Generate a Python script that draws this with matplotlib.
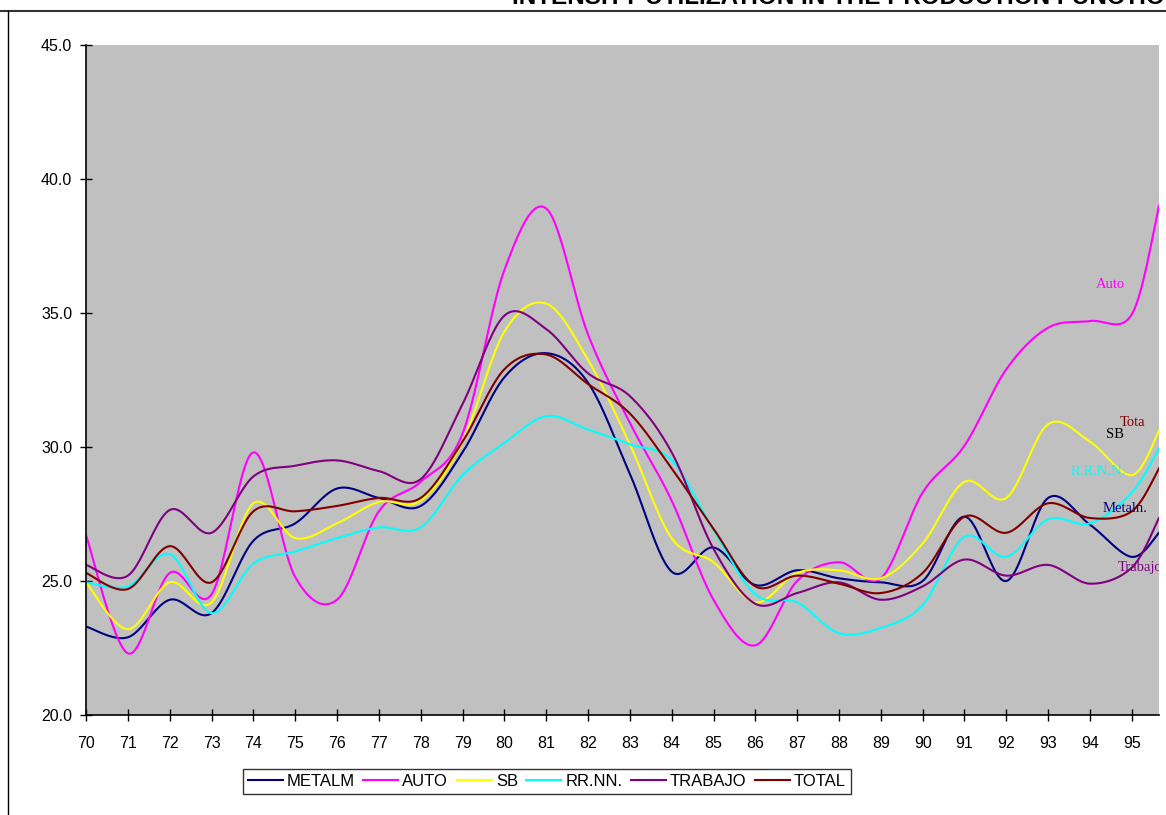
import matplotlib
matplotlib.use("Agg")
import matplotlib.pyplot as plt
from matplotlib.lines import Line2D
import numpy as np

years = [70, 71, 72, 73, 74, 75, 76, 77, 78, 79, 80, 81, 82, 83, 84, 85, 86, 87, 88, 89,
         90, 91, 92, 93, 94, 95, 95.65]

metalm = [23.3, 22.9, 24.3, 23.8, 26.5, 27.15, 28.45, 28.1, 27.8, 29.8, 32.6, 33.5, 32.4, 29.0,
          25.35, 26.25, 24.85, 25.4, 25.1, 24.95, 25.0, 27.4, 25.0, 28.1, 27.1, 25.9, 26.8]
auto = [26.7, 22.3, 25.3, 24.5, 29.8, 25.15, 24.3, 27.6, 28.7, 30.5, 36.6, 38.9, 34.2, 30.9,
        28.0, 24.3, 22.6, 25.0, 25.7, 25.1, 28.3, 30.05, 32.9, 34.45, 34.7, 34.95, 39.0]
sb = [24.95, 23.2, 24.95, 24.2, 27.9, 26.6, 27.15, 27.95, 28.0, 30.2, 34.3, 35.35, 33.25, 30.1,
      26.6, 25.7, 24.2, 25.3, 25.4, 25.1, 26.4, 28.7, 28.1, 30.85, 30.2, 28.95, 30.6]
rrnn = [24.95, 24.8, 26.0, 23.8, 25.65, 26.1, 26.6, 27.0, 27.0, 28.95, 30.15, 31.15, 30.65, 30.1,
        29.5, 26.9, 24.5, 24.2, 23.05, 23.25, 24.1, 26.65, 25.9, 27.3, 27.15, 28.3, 29.95]
trabajo = [25.6, 25.2, 27.65, 26.8, 28.9, 29.3, 29.5, 29.1, 28.8, 31.6, 34.9, 34.4, 32.75, 31.9,
           29.8, 26.2, 24.15, 24.55, 24.95, 24.3, 24.8, 25.8, 25.2, 25.6, 24.9, 25.5, 27.35]
total = [25.3, 24.7, 26.3, 24.95, 27.6, 27.6, 27.8, 28.1, 28.1, 30.2, 32.9, 33.45, 32.35, 31.25,
         29.2, 26.95, 24.8, 25.2, 24.9, 24.55, 25.3, 27.4, 26.8, 27.9, 27.35, 27.6, 29.2]

names = ["METALM", "AUTO", "SB", "RR.NN.", "TRABAJO", "TOTAL"]
colors = ["#000080", "#FF00FF", "#FFFF00", "#00FFFF", "#800080", "#800000"]
series = [metalm, auto, sb, rrnn, trabajo, total]

# labels written inside the plot near the right end
end_labels = ["Metaln.", "Auto", "SB", "R.R.N.N.", "Trabajo", "Tota"]
end_label_colors = ["#000080", "#FF00FF", "#000000", "#00FFFF", "#800080", "#800000"]
end_label_x = [94.85, 94.5, 94.6, 94.2, 95.2, 95.02]
end_label_y = [27.7, 36.05, 30.45, 29.1, 25.5, 30.9]


def smooth(x, y, n=24):
    # Catmull-Rom curve through the points, like Excel's smoothed lines
    p = np.column_stack([x, y]).astype(float)
    p = np.vstack([p[0], p, p[-1]])
    out = []
    t = np.linspace(0, 1, n, endpoint=False)[:, None]
    for i in range(1, len(p) - 2):
        p0, p1, p2, p3 = p[i - 1], p[i], p[i + 1], p[i + 2]
        seg = 0.5 * ((2 * p1) + (-p0 + p2) * t + (2 * p0 - 5 * p1 + 4 * p2 - p3) * t ** 2
                     + (-p0 + 3 * p1 - 3 * p2 + p3) * t ** 3)
        out.append(seg)
    out.append(p[-2][None, :])
    out = np.vstack(out)
    return out[:, 0], out[:, 1]


plt.rcParams['font.family'] = ['Liberation Sans', 'DejaVu Sans']

fig = plt.figure(figsize=(11.66, 8.15), dpi=100)
ax = fig.add_axes([0.0738, 0.1227, 0.9202, 0.8221])
ax.set_facecolor("#C0C0C0")

for name, col, vals in zip(names, colors, series):
    sx, sy = smooth(years, vals)
    ax.plot(sx, sy, color=col, lw=1.5, label=name)

for txt, col, lx, ly in zip(end_labels, end_label_colors, end_label_x, end_label_y):
    ax.text(lx, ly, txt, color=col, fontsize=10.5, family='Liberation Serif',
            ha='center', va='center', clip_on=True)

ax.set_xlim(70, 95.65)
ax.set_ylim(20, 45)
ax.set_xticks(range(70, 96))
ax.set_xticklabels([str(v) for v in range(70, 96)])
ax.set_yticks([20, 25, 30, 35, 40, 45])
ax.set_yticklabels(["%.1f" % v for v in [20, 25, 30, 35, 40, 45]])
ax.tick_params(axis='x', direction='inout', length=8, width=1, pad=11, labelsize=11.5)
ax.tick_params(axis='y', direction='inout', length=8, width=1, pad=6, labelsize=11.5)
ax.spines['top'].set_visible(False)
ax.spines['right'].set_visible(False)
ax.spines['left'].set_linewidth(1.2)
ax.spines['bottom'].set_linewidth(1.2)

leg = fig.legend(loc='center', bbox_to_anchor=(0.469, 0.0417), ncol=6, fontsize=12,
                 frameon=True, fancybox=False, handlelength=2.1, handletextpad=0.25,
                 columnspacing=0.5, borderpad=0.3, borderaxespad=0)
leg.get_frame().set_edgecolor("black")
leg.get_frame().set_linewidth(1.0)

# outer chart frame and cut-off title
fig.add_artist(Line2D([0, 1], [1 - 11 / 815, 1 - 11 / 815], color="#333333", lw=1.5,
                      transform=fig.transFigure))
fig.add_artist(Line2D([8 / 1166, 8 / 1166], [0, 1 - 11 / 815], color="black", lw=1.0,
                      transform=fig.transFigure))
fig.text(0.439, 1 - 4 / 815, "INTENSITY UTILIZATION IN THE PRODUCTION FUNCTION",
         fontsize=17.5, fontweight='bold', ha='left', va='baseline')

fig.savefig("out.png", dpi=100)
